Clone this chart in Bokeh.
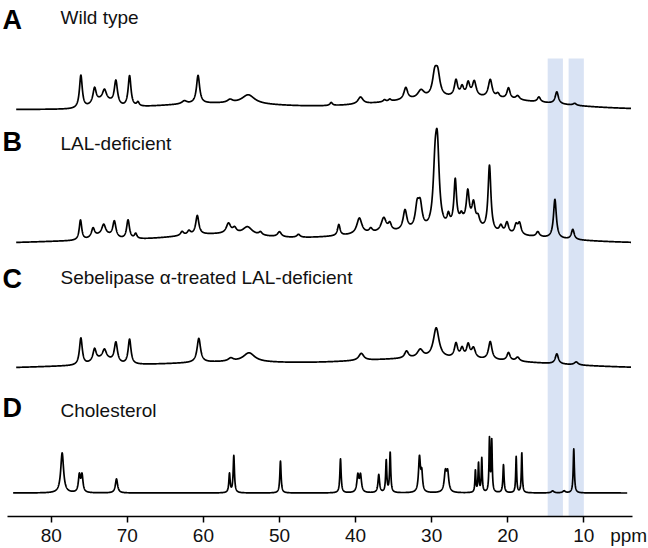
import numpy as np
from bokeh.plotting import figure
from bokeh.models import Range1d, FixedTicker
from bokeh.core.properties import value
from bokeh.embed import file_html
from bokeh.resources import INLINE

# ---------------- data ----------------
tick_values = [80, 70, 60, 50, 40, 30, 20, 10]
axis_unit = "ppm"
axis_extent = (3.6, 85.74)

panel_letters = ["A", "B", "C", "D"]
panel_names = ["Wild type", "LAL-deficient",
               "Sebelipase \u03b1-treated LAL-deficient", "Cholesterol"]

band_left = [14.75, 12.0]
band_right = [12.75, 10.0]

# spectrum A: Wild type  (peak ppm, peak height, line width ppm)
A_ppm = [76.1, 74.3, 73.0, 71.5, 69.7, 68.6, 62.5, 60.7, 56.5, 54.1, 43.2, 39.35,
         36.2, 35.5, 33.4, 31.4, 29.6, 29.2, 26.8, 26.0, 25.2, 24.4, 22.3, 21.3,
         19.9, 18.7, 15.9, 13.55, 11.2]
A_h = [33, 15, 10, 24, 31, 4, 3, 28, 3, 9, 3, 7,
       2, 2, 12, 8, 21, 21, 16, 9, 13, 15, 18, 4,
       11, 4, 5, 12, 2]
A_w = [0.45, 0.5, 0.6, 0.5, 0.45, 0.4, 0.8, 0.5, 0.8, 2.0, 0.4, 0.8,
       0.4, 0.4, 0.6, 1.0, 0.7, 0.7, 0.5, 0.5, 0.5, 0.6, 0.6, 0.5,
       0.5, 0.6, 0.5, 0.5, 0.5]
A_broad_ppm = [73.2, 26.0, 58.0]
A_broad_h = [8, 12, 6]
A_broad_sd = [1.2, 10.0, 8.0]

# spectrum B: LAL-deficient
B_ppm = [76.15, 74.5, 73.1, 71.7, 69.9, 68.9, 62.8, 61.9, 60.8, 56.7, 55.9, 54.2,
         52.5, 50.0, 47.5, 42.2, 39.5, 38.0, 36.3, 35.5, 33.5, 31.9, 31.5, 29.55,
         29.25, 27.8, 26.9, 26.1, 25.25, 24.5, 23.9, 22.4, 20.9, 20.1, 18.9, 18.45,
         16.05, 13.8, 11.45]
B_h = [20, 9, 10, 16, 19, 5, 4, 4, 19, 10, 5, 8,
       3, 5, 3, 11, 16, 4, 14, 7, 20, 22, 22, 52,
       72, 10, 44, 6, 30, 20, 8, 66, 7, 11, 9, 11,
       5, 39, 10]
B_w = [0.4, 0.5, 0.6, 0.5, 0.45, 0.4, 0.5, 0.5, 0.5, 0.7, 0.6, 1.5,
       0.5, 0.6, 0.5, 0.4, 0.8, 0.5, 0.8, 0.5, 0.6, 0.6, 0.6, 0.6,
       0.6, 0.4, 0.4, 0.4, 0.45, 0.5, 0.5, 0.45, 0.5, 0.5, 0.5, 0.5,
       0.5, 0.45, 0.45]
B_broad_ppm = [73.2, 30.0, 58.0, 73.0, 25.5]
B_broad_h = [5, 12, 8, 3, 9]
B_broad_sd = [1.2, 12.0, 6.0, 8.0, 1.5]

# spectrum C: Sebelipase alpha-treated LAL-deficient
C_ppm = [76.1, 74.3, 73.0, 71.5, 69.7, 60.6, 56.4, 54.0, 39.25, 33.3, 31.5, 29.4,
         26.8, 26.0, 25.2, 24.5, 22.3, 19.9, 18.7, 13.55, 11.0]
C_h = [27, 12, 9, 20, 25, 24, 3, 9, 7, 7, 8, 30,
       14, 9, 13, 10, 18, 8, 4, 10, 3]
C_w = [0.45, 0.5, 0.6, 0.5, 0.45, 0.55, 0.8, 1.8, 0.8, 0.6, 0.9, 0.9,
       0.5, 0.5, 0.5, 0.6, 0.55, 0.5, 0.6, 0.5, 0.6]
C_broad_ppm = [73.2, 30.0, 57.0, 73.0]
C_broad_h = [6, 10, 5, 3]
C_broad_sd = [1.2, 13.0, 7.0, 8.0]

# spectrum D: Cholesterol
D_ppm = [78.56, 76.3, 75.95, 71.42, 56.57, 56.0, 49.87, 41.98, 39.7, 39.35, 36.95,
         35.97, 35.45, 31.6, 31.3, 28.2, 27.9, 24.25, 23.84, 23.41, 22.4, 22.1,
         20.56, 18.89, 18.15, 14.1, 12.6, 11.32]
D_h = [40, 17, 17, 14, 19, 37, 32, 34, 17, 17, 18,
       32, 40, 35, 18, 19, 19, 22, 29, 34, 53, 51,
       28, 36, 40, 2, 2, 44]
D_w = [0.45, 0.3, 0.3, 0.35, 0.2, 0.2, 0.2, 0.2, 0.3, 0.3, 0.25,
       0.18, 0.18, 0.3, 0.25, 0.35, 0.35, 0.15, 0.15, 0.15, 0.15, 0.15,
       0.18, 0.15, 0.15, 0.4, 0.4, 0.18]
D_broad_ppm = []
D_broad_h = []
D_broad_sd = []

trace_start = [84.6, 84.6, 84.6, 85.0]
trace_end = [3.8, 3.8, 3.8, 4.3]

# ---------------- layout constants ----------------
trace_offset = [407, 273, 148, 23.5]   # vertical stacking of the traces
letter_y = [497, 375, 238, 109]
name_y = [499, 373, 239, 106]
band_top = 458

tables = [
    (A_ppm, A_h, A_w, A_broad_ppm, A_broad_h, A_broad_sd),
    (B_ppm, B_h, B_w, B_broad_ppm, B_broad_h, B_broad_sd),
    (C_ppm, C_h, C_w, C_broad_ppm, C_broad_h, C_broad_sd),
    (D_ppm, D_h, D_w, D_broad_ppm, D_broad_h, D_broad_sd),
]

FONT = "Liberation Sans"
PX_PER_PPM = 7.609
X_LEFT = 80 + 50.7 / PX_PER_PPM
X_RIGHT = X_LEFT - 648 / PX_PER_PPM

p = figure(width=648, height=548, output_backend="svg", toolbar_location=None,
           x_range=Range1d(X_LEFT, X_RIGHT), y_range=Range1d(0, 516),
           min_border_left=0, min_border_right=0, min_border_top=0, min_border_bottom=32)
p.outline_line_color = None
p.background_fill_color = "white"
p.border_fill_color = "white"
p.xgrid.visible = False
p.ygrid.visible = False
p.yaxis.visible = False

# shaded bands
p.quad(left=band_left, right=band_right, bottom=[0] * len(band_left),
       top=[band_top] * len(band_left), fill_color="#d9e3f4", line_color=None)

for i, (ppm, h, w, bppm, bh, bsd) in enumerate(tables):
    x = np.linspace(trace_start[i], trace_end[i], 4000)
    y = np.full_like(x, trace_offset[i], dtype=float)
    for c, hh, ww in zip(ppm, h, w):
        y += hh / (1.0 + ((x - c) / (ww / 2.0)) ** 2)
    for c, hh, sd in zip(bppm, bh, bsd):
        y += hh * np.exp(-0.5 * ((x - c) / sd) ** 2)
    p.line(x, y, line_color="black", line_width=1.7, line_join="round")

p.text(x=[X_LEFT - 2 / PX_PER_PPM] * 4, y=letter_y, text=panel_letters,
       text_font=value(FONT), text_font_style="bold", text_font_size="27px",
       text_baseline="middle", text_align="left", text_color="black")
p.text(x=[78.78] * 4, y=name_y, text=panel_names, text_font=value(FONT),
       text_font_size="19px", text_baseline="middle", text_align="left",
       text_color="#111111")

ax = p.xaxis[0]
ax.ticker = FixedTicker(ticks=tick_values)
ax.bounds = axis_extent
ax.minor_tick_line_color = None
ax.major_tick_in = 0
ax.major_tick_out = 6
ax.major_tick_line_width = 1.5
ax.axis_line_width = 1.5
ax.axis_line_color = "black"
ax.major_tick_line_color = "black"
ax.major_label_standoff = 2
ax.major_label_text_font = FONT
ax.major_label_text_font_size = "19px"
ax.major_label_text_color = "#111111"

try:
    ax.axis_label_align = "right"
    ax.axis_label = axis_unit
    ax.axis_label_standoff = -23
    ax.axis_label_text_font = FONT
    ax.axis_label_text_font_size = "19px"
    ax.axis_label_text_font_style = "normal"
    ax.axis_label_text_color = "#111111"
except Exception:
    ax.axis_label = None
    ax.major_label_overrides = {10: "\u00a0" * 10 + "10" + "\u00a0" * 3 + axis_unit}

open("out.html", "w").write(file_html(p, INLINE))
